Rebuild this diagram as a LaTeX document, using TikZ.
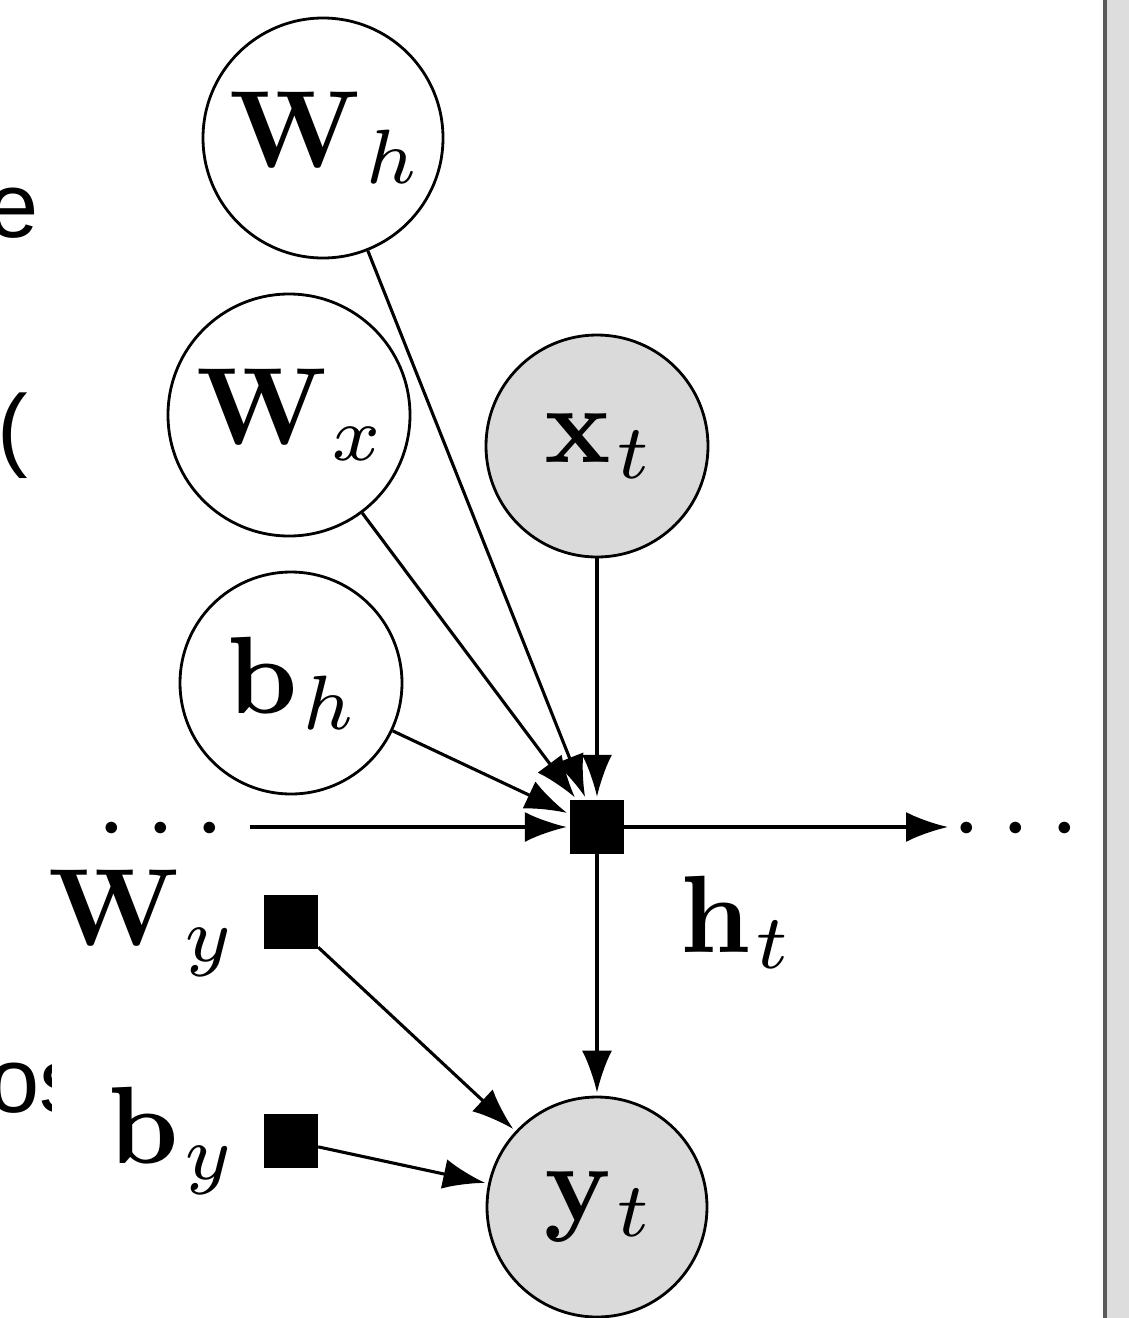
\RequirePackage{fix-cm}
\documentclass[tikz,border=0pt]{standalone}
\usepackage{fontspec}
\newfontfamily\slidefont{Liberation Sans}
\usetikzlibrary{arrows.meta}
\definecolor{obsgray}{RGB}{218,218,218}
\definecolor{sidedark}{RGB}{90,90,90}
\definecolor{sidelight}{RGB}{221,221,221}
\font\bfbig=cmbx10 at 110pt
\font\itsub=cmmi7 at 77pt
\newcommand\bigfont{\fontsize{110}{132}\selectfont}
\newcommand\slidesize{\slidefont\fontsize{92}{110}\selectfont}
\newcommand\vsym[2]{\hbox{{\bfbig #1}\kern5pt\lower16pt\hbox{\itsub #2}}}
\begin{document}
\begin{tikzpicture}[x=1pt,y=-1pt,
  var/.style={circle,draw,line width=2.8pt,inner sep=0pt,font=\bigfont},
  obs/.style={var,fill=obsgray},
  factor/.style={rectangle,fill=black,minimum size=54pt,inner sep=0pt},
  lbl/.style={inner sep=0pt,font=\bigfont},
  slide/.style={inner sep=0pt,font=\slidesize},
  edge/.style={line width=3.1pt,-{Latex[length=42pt,width=30pt]},shorten >=3pt}
]
\useasboundingbox (0,0) rectangle (1129,1318);
\fill[white] (0,0) rectangle (1129,1318);
% side bar
\fill[sidedark] (1103,0) rectangle (1107,1318);
\fill[sidelight] (1107,0) rectangle (1129,1318);
% clipped slide text
\begin{scope}
\clip (0,0) rectangle (51,1318);
\node[slide,anchor=base east] (te) at (39,237) {e};
\node[slide,anchor=base east] (tp) at (28,459) {(};
\node[slide,anchor=base west] (tos) at (-12,1112) {os};
\end{scope}
% nodes
\node[var,minimum size=240pt] (wh) at (323,138) {\vsym{W}{h}};
\node[var,minimum size=242pt] (wx) at (289,415) {\vsym{W}{x}};
\node[obs,minimum size=222pt] (xt) at (597,446) {\vsym{x}{t}};
\node[var,minimum size=222pt] (bh) at (291,683) {\vsym{b}{h}};
\node[factor] (f) at (597,827) {};
\node[factor] (wy) at (291,922) {};
\node[factor] (by) at (291,1141) {};
\node[obs,minimum size=220pt] (yt) at (597,1207) {\vsym{y}{t}};
\node[lbl,anchor=base east] (wylbl) at (229,945) {\vsym{W}{y}};
\node[lbl,anchor=base east] (bylbl) at (229,1163) {\vsym{b}{y}};
\node[lbl,anchor=base west] (htlbl) at (680,952) {\vsym{h}{t}};
\node[lbl,anchor=base] (ldots) at (161,855) {$\cdots$};
\node[lbl,anchor=base] (rdots) at (1016,855) {$\cdots$};
\coordinate (lstart) at (250,827);
\coordinate (rend) at (948,827);
% edges
\draw[edge] (wh) -- (f);
\draw[edge] (wx) -- (f);
\draw[edge] (bh) -- (f);
\draw[edge] (xt) -- (f);
\draw[edge] (lstart) -- (f);
\draw[edge,shorten >=0pt] (f) -- (rend);
\draw[edge] (f) -- (yt);
\draw[edge] (wy) -- (yt);
\draw[edge] (by) -- (yt);
\end{tikzpicture}
\end{document}
